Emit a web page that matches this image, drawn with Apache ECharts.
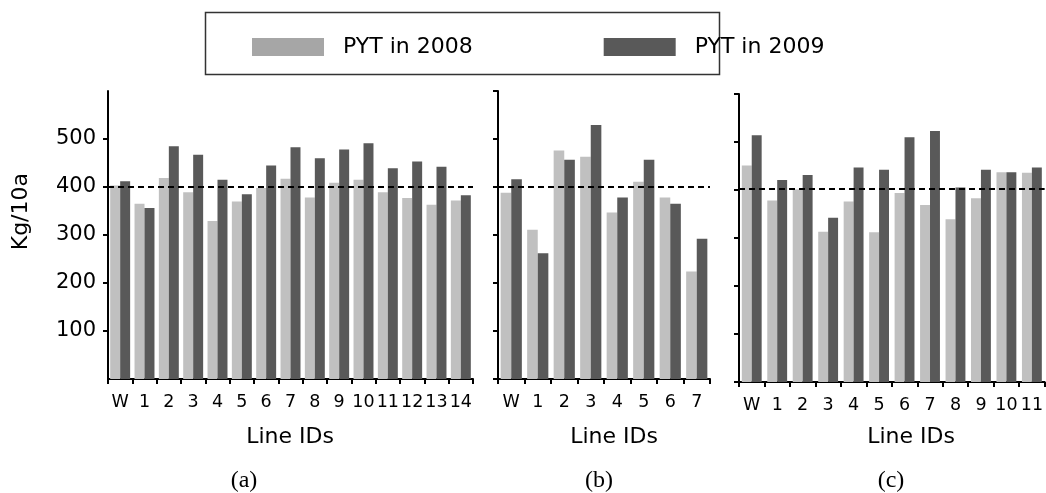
<!DOCTYPE html>
<html>
<head>
<meta charset="utf-8">
<script src="https://cdn.jsdelivr.net/npm/echarts@6/dist/echarts.min.js"></script>
<style>
html,body{margin:0;padding:0;background:#fff;}
#chart{width:1046px;height:493px;}
</style>
</head>
<body>
<div id="chart"></div>
<script>
// ---- data ----
const seriesNames = ['PYT in 2008', 'PYT in 2009'];
const catsA = ['W','1','2','3','4','5','6','7','8','9','10','11','12','13','14'];
const a2008 = [403,365,419,389,329,370,398,417,378,409,415,389,377,363,372];
const a2009 = [412,356,485,467,415,385,445,483,460,478,491,439,453,442,383];
const catsB = ['W','1','2','3','4','5','6','7'];
const b2008 = [388,311,476,463,347,411,378,224];
const b2009 = [416,262,457,529,378,457,365,292];
const catsC = ['W','1','2','3','4','5','6','7','8','9','10','11'];
const c2008 = [451,378,401,313,376,312,394,369,339,383,437,436];
const c2009 = [514,421,431,342,447,442,510,523,405,442,437,447];
const refLines = [400, 400, 403];
const yMin = 0, yMax = 600, yStep = 100;
const panelLabels = ['(a)', '(b)', '(c)'];
const xAxisTitle = 'Line IDs';
const yAxisTitle = 'Kg/10a';

// ---- style ----
const LIGHT = '#c0c0c0', DARK = '#595959';
const LEG_LIGHT = '#a6a6a6';
const FONT = 'DejaVu Sans';

const grids = [
  {left:108, width:365, top:91, height:288},
  {left:498, width:212, top:91, height:288},
  {left:739, width:306, top:94, height:288}
];
const cats = [catsA, catsB, catsC];
const d08 = [a2008, b2008, c2008];
const d09 = [a2009, b2009, c2009];
const gaps = ['18%', '20%', '22%'];

const xAxes = cats.map((c, i) => ({
  type:'category', gridIndex:i, data:c,
  axisLine:{lineStyle:{color:'#000', width:2}},
  axisTick:{show:true, length:5, lineStyle:{color:'#000', width:2}},
  axisLabel:{interval:0, color:'#000', fontFamily:FONT, fontSize:17.5, margin:14}
}));
const yAxes = cats.map((c, i) => ({
  type:'value', gridIndex:i, min:yMin, max:yMax, interval:yStep,
  splitLine:{show:false},
  axisLine:{show:true, lineStyle:{color:'#000', width:2}},
  axisTick:{show:true, length:5, lineStyle:{color:'#000', width:2}},
  axisLabel:{show:i===0, showMinLabel:false, showMaxLabel:false, color:'#000', fontFamily:FONT, fontSize:21, margin:12}
}));

const series = [];
for (let i = 0; i < 3; i++) {
  series.push({
    name: seriesNames[0], type:'bar', xAxisIndex:i, yAxisIndex:i, data:d08[i],
    barGap:'0%', barCategoryGap:gaps[i],
    itemStyle:{color:LIGHT}, emphasis:{disabled:true},
    markLine:{
      symbol:'none', silent:true, label:{show:false},
      lineStyle:{color:'#000', type:[6,4], width:2},
      data:[{yAxis:refLines[i]}]
    }
  });
  series.push({
    name: seriesNames[1], type:'bar', xAxisIndex:i, yAxisIndex:i, data:d09[i],
    barGap:'0%', barCategoryGap:gaps[i],
    itemStyle:{color:DARK}, emphasis:{disabled:true}
  });
}

const labelX = [290, 614, 911];
const subX = [244, 599, 891];
const graphic = [
  {type:'rect', left:203, top:10, shape:{width:514, height:62}, style:{fill:'none', stroke:'#333', lineWidth:1.5}},
  {type:'text', left:10, top:173, rotation:Math.PI/2, style:{text:yAxisTitle, fill:'#000', font:'22px "DejaVu Sans"'}}
];
for (let i = 0; i < 3; i++) {
  graphic.push({type:'text', x:labelX[i], y:437, style:{text:xAxisTitle, fill:'#000', font:'22px "DejaVu Sans"', align:'center', verticalAlign:'middle'}});
  graphic.push({type:'text', x:subX[i], y:481, style:{text:panelLabels[i], fill:'#000', font:'24px "Liberation Serif"', align:'center', verticalAlign:'middle'}});
}

const option = {
  animation:false,
  backgroundColor:'#fff',
  legend:{
    left:247, top:31, itemWidth:72, itemHeight:18, itemGap:131,
    icon:'rect',
    data:[{name:seriesNames[0], itemStyle:{color:LEG_LIGHT}}, {name:seriesNames[1], itemStyle:{color:DARK}}],
    textStyle:{color:'#000', fontFamily:FONT, fontSize:22, padding:[0,0,0,14]}
  },
  grid:grids,
  xAxis:xAxes,
  yAxis:yAxes,
  series:series,
  graphic:graphic
};
const chart = echarts.init(document.getElementById('chart'), null, {renderer:'canvas'});
chart.setOption(option);
</script>
</body>
</html>
